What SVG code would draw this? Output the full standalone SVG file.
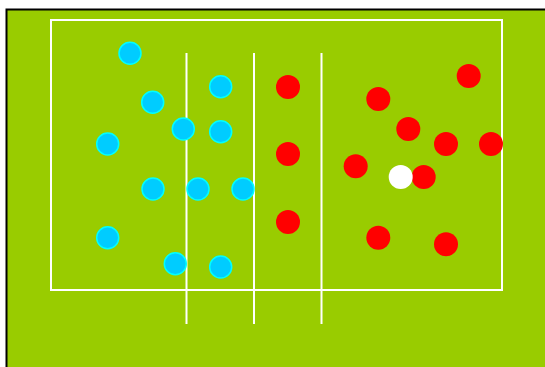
<svg xmlns="http://www.w3.org/2000/svg" width="545" height="367" viewBox="0 0 545 367">
<style>
.blue{fill:#00CCFF;stroke:#00FFFF;stroke-width:1.5}
.red{fill:#FF0000}
.line{stroke:#FFFFFF;stroke-width:2;fill:none}
</style>
<rect x="6.5" y="9.5" width="545" height="365" fill="#99CC00" stroke="#000" stroke-width="2"/>
<g id="field">
<rect class="line" x="51" y="20" width="451" height="270"/>
<line class="line" x1="186.5" y1="53" x2="186.5" y2="324"/>
<line class="line" x1="254" y1="53" x2="254" y2="324"/>
<line class="line" x1="321.5" y1="53" x2="321.5" y2="324"/>
</g>
<g id="blue-team">
<circle class="blue" cx="130" cy="53.3" r="11"/>
<circle class="blue" cx="152.7" cy="102.3" r="11"/>
<circle class="blue" cx="220.7" cy="86.7" r="11"/>
<circle class="blue" cx="183.3" cy="129" r="11"/>
<circle class="blue" cx="220.7" cy="131.7" r="11"/>
<circle class="blue" cx="107.7" cy="144" r="11"/>
<circle class="blue" cx="153" cy="189" r="11"/>
<circle class="blue" cx="198" cy="189" r="11"/>
<circle class="blue" cx="243" cy="189" r="11"/>
<circle class="blue" cx="107.7" cy="237.7" r="11"/>
<circle class="blue" cx="175.3" cy="263.7" r="11"/>
<circle class="blue" cx="220.7" cy="267" r="11"/>
</g>
<g id="red-team">
<circle class="red" cx="288" cy="87" r="12"/>
<circle class="red" cx="378.3" cy="99" r="12"/>
<circle class="red" cx="468.7" cy="76" r="12"/>
<circle class="red" cx="408.3" cy="129" r="12"/>
<circle class="red" cx="446" cy="144" r="12"/>
<circle class="red" cx="491" cy="144" r="12"/>
<circle class="red" cx="288" cy="154" r="12"/>
<circle class="red" cx="355.7" cy="166.3" r="12"/>
<circle class="red" cx="423.7" cy="177" r="12"/>
<circle class="red" cx="288" cy="222" r="12"/>
<circle class="red" cx="378.3" cy="237.7" r="12"/>
<circle class="red" cx="446" cy="244.3" r="12"/>
</g>
<g id="ball">
<circle cx="400.7" cy="177" r="12" fill="#FFFFFF"/>
</g>
<g id="connectors"/>
</svg>
